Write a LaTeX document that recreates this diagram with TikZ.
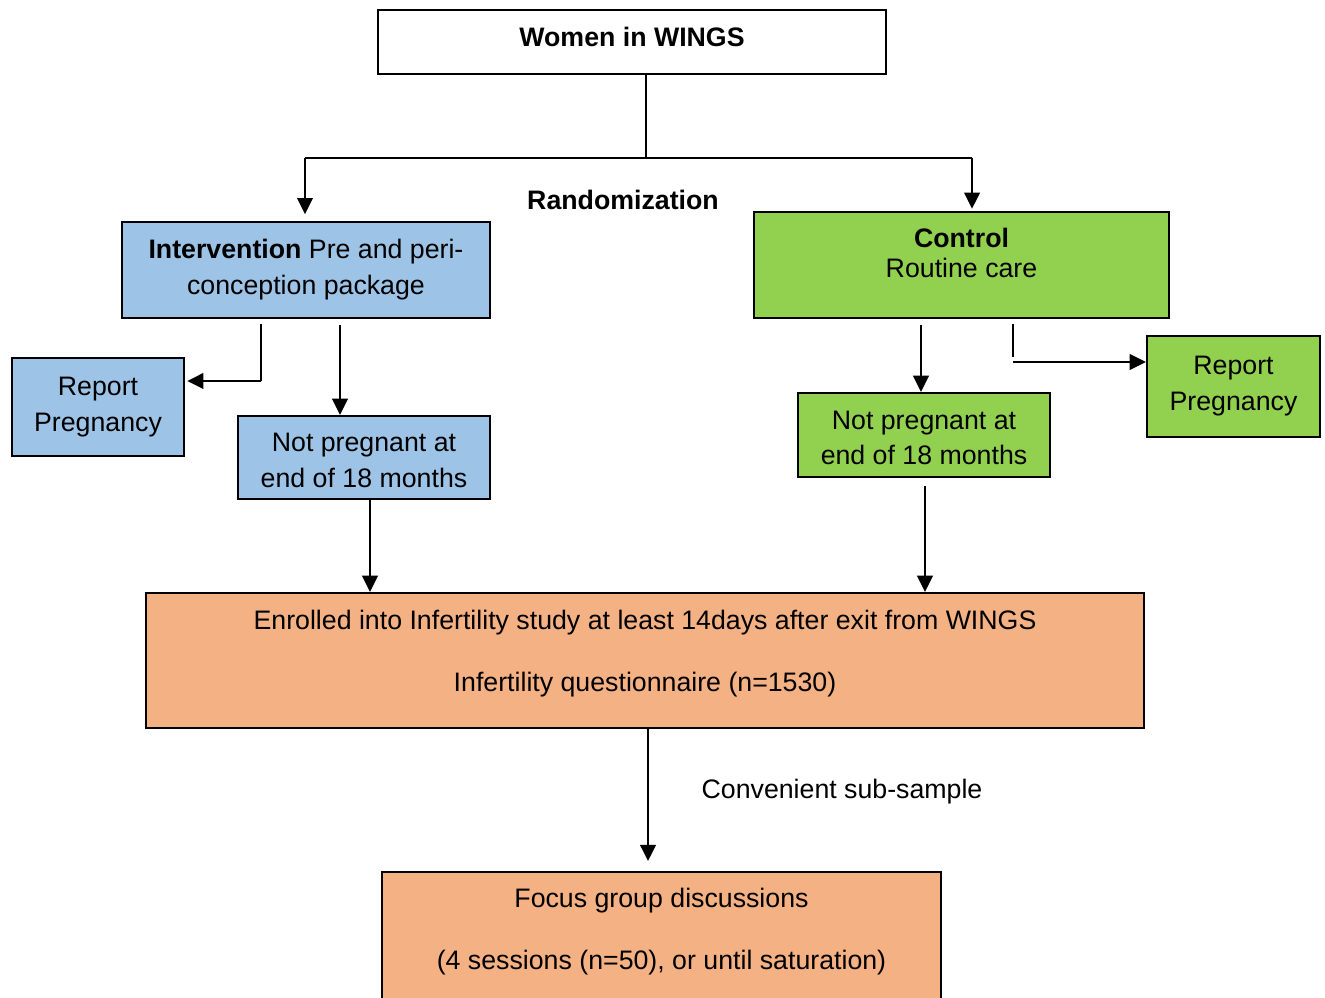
\documentclass[tikz,border=0pt]{standalone}
\usepackage{fontspec}
\setmainfont{Liberation Sans}
\usetikzlibrary{arrows.meta}
\definecolor{boxblue}{HTML}{9DC3E6}
\definecolor{boxgreen}{HTML}{92D050}
\definecolor{boxorange}{HTML}{F4B183}
\tikzset{
  box/.style={draw, rectangle, line width=0.6pt, align=center, inner sep=0pt},
  arr/.style={->, line width=0.7pt},
  thinline/.style={line width=0.35pt},
}
\begin{document}
\begin{tikzpicture}[>={Triangle[length=4.6pt,width=4.4pt]}, x=0.01cm, y=-0.01cm, font=\fontsize{7.6}{10.2}\selectfont]
\clip (0,0) rectangle (1325,998);

\node(W) at (632,42)[box, minimum width=5.08cm, minimum height=0.64cm]{};
\node(Wtxt) at (632,37){\textbf{Women in WINGS}};
\node(R) at (623,200){\textbf{Randomization}};

\node(I) at (306,270)[box, fill=boxblue, minimum width=3.68cm, minimum height=0.96cm]{\textbf{Intervention} Pre and peri-\\conception package};
\node(C) at (961.5,265)[box, fill=boxgreen, minimum width=4.15cm, minimum height=1.06cm]{};
\node(Ctxt) at (961.5,253)[align=center]{\textbf{Control}\\[-1.7pt]Routine care};

\node(RepL) at (98,407)[box, fill=boxblue, minimum width=1.72cm, minimum height=0.98cm]{Report\\Pregnancy};
\node(NPL) at (364,457.5)[box, fill=boxblue, minimum width=2.52cm, minimum height=0.83cm]{};
\node(NPLtxt) at (364,460.5)[align=center]{Not pregnant at\\end of 18 months};
\node(NPR) at (924,435)[box, fill=boxgreen, minimum width=2.52cm, minimum height=0.84cm]{};
\node(NPRtxt) at (924,438)[align=center]{Not pregnant at\\end of 18 months};
\node(RepR) at (1233.5,386.5)[box, fill=boxgreen, minimum width=1.73cm, minimum height=1.01cm]{Report\\Pregnancy};

\node(E) at (645,660.5)[box, fill=boxorange, minimum width=9.98cm, minimum height=1.35cm]{};
\node(Etxt) at (645,653.5)[align=center]{Enrolled into Infertility study at least 14days after exit from WINGS\\[7.4pt]Infertility questionnaire (n=1530)};
\node(S) at (842,792){Convenient sub-sample};
\node(F) at (661.5,940)[box, fill=boxorange, minimum width=5.59cm, minimum height=1.36cm]{};
\node(Ftxt) at (661.5,932)[align=center]{Focus group discussions\\[7.4pt](4 sessions (n=50), or until saturation)};

% randomization split
\coordinate(split) at (646,158);
\coordinate(sL) at (305,158);
\coordinate(sR) at (972,158);
\draw[thinline](W.south -| split)--(split);
\draw[thinline](sL)--(sR);
\draw[arr, shorten >=1.9pt](sL)--(I.north -| sL);
\draw[arr, shorten >=0.6pt](sR)--(C.north -| sR);

% intervention arm
\coordinate(aL) at (261,324);
\coordinate(bL) at (261,381);
\draw[thinline](aL)--(bL);
\draw[arr, shorten >=0.6pt](bL)--(RepL.east |- bL);
\draw[arr, shorten <=1.7pt](I.south -| 340,0)--(NPL.north -| 340,0);
\draw[arr](NPL.south -| 370,0)--(E.north -| 370,0);

% control arm
\coordinate(aR) at (1013,324);
\coordinate(bR) at (1013,357);
\coordinate(cR) at (1013,362);
\draw[thinline](aR)--(bR);
\draw[arr](cR)--(RepR.west |- cR);
\draw[arr, shorten <=1.7pt](C.south -| 921,0)--(NPR.north -| 921,0);
\draw[arr, shorten <=2.2pt](NPR.south -| 925,0)--(E.north -| 925,0);

% sub-sample
\draw[arr, shorten >=2.8pt](E.south -| 648,0)--(F.north -| 648,0);

\end{tikzpicture}
\end{document}
